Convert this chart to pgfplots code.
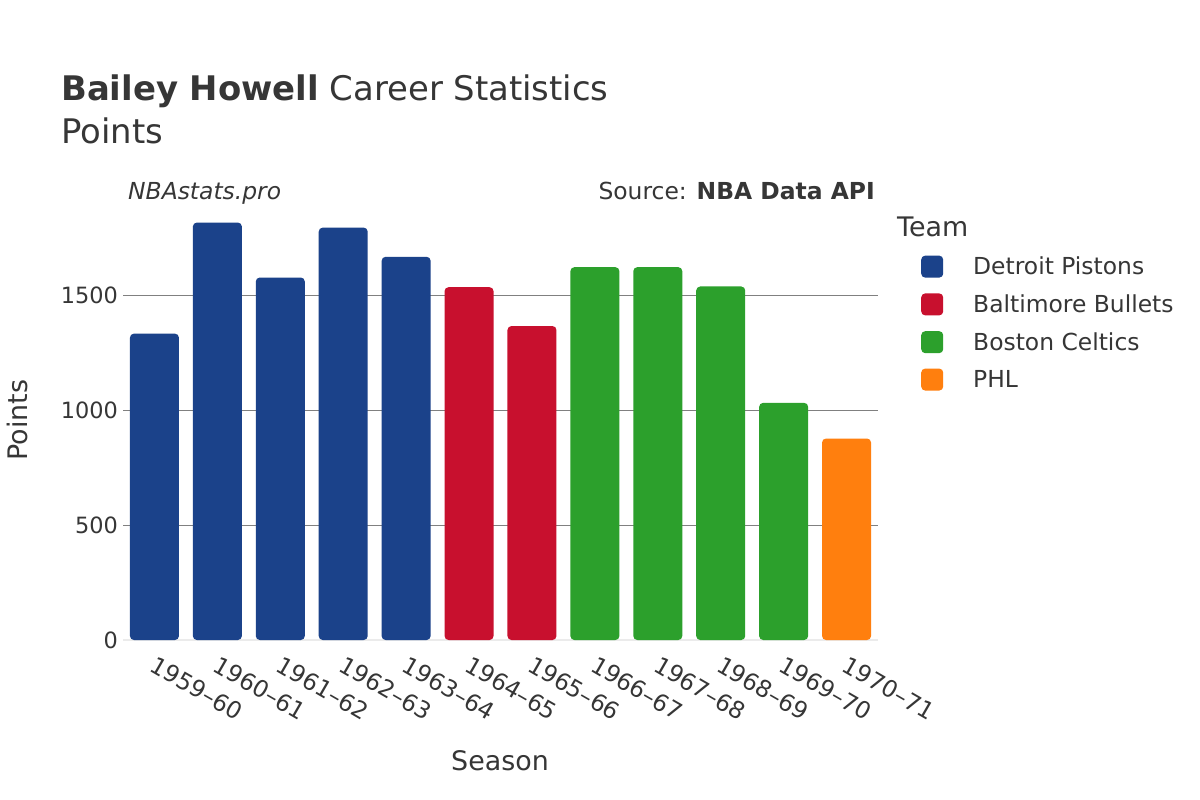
\documentclass[border=0pt]{standalone}
\usepackage{pgfplots}
\pgfplotsset{compat=1.18}
\usepackage{fontspec}
\setmainfont{DejaVu Sans}
\definecolor{txt}{HTML}{363636}
\definecolor{det}{HTML}{1B428A}
\definecolor{bal}{HTML}{C8102E}
\definecolor{bos}{HTML}{2CA02C}
\definecolor{phl}{HTML}{FF7F0E}
\definecolor{gridc}{HTML}{808080}
\definecolor{zeroc}{HTML}{EBEBEB}
\begin{document}
\begin{tikzpicture}[x=1bp,y=1bp]
\useasboundingbox[fill=white] (0,0) rectangle (1200,-800);
% titles
\node[anchor=base west,text=txt,inner sep=0] at (61,-101)
  {\fontsize{34}{40}\selectfont\textbf{Bailey Howell} Career Statistics};
\node[anchor=base west,text=txt,inner sep=0] at (61,-143)
  {\fontsize{34}{40}\selectfont Points};
\node[anchor=base west,text=txt,inner sep=0] at (128,-199)
  {\fontsize{23.5}{28}\selectfont\itshape NBAstats.pro};
\node[anchor=base east,text=txt,inner sep=0] at (875,-199)
  {\fontsize{23.5}{28}\selectfont Source: \textbf{NBA Data API}};
\node[anchor=base west,text=txt,inner sep=0] at (897,-236)
  {\fontsize{27}{32}\selectfont Team};
\node[anchor=center,text=txt,inner sep=0,rotate=90] at (17,-420)
  {\fontsize{27}{32}\selectfont Points};
\node[anchor=base,text=txt,inner sep=0] at (500,-770)
  {\fontsize{27}{32}\selectfont Season};

\begin{axis}[
  at={(123bp,-640bp)}, anchor=south west,
  width=755bp, height=440bp, scale only axis,
  xmin=-0.5, xmax=11.5, ymin=0, ymax=1913,
  ybar, bar width=49bp, bar shift=0pt,
  axis line style={draw=none},
  tick style={draw=none},
  /pgf/number format/assume math mode=true,
  /pgf/number format/1000 sep={},
  xtick={0,...,11},
  xticklabels={1959--60,1960--61,1961--62,1962--63,1963--64,1964--65,1965--66,1966--67,1967--68,1968--69,1969--70,1970--71},
  xticklabel style={rotate=-30,anchor=north west,text=txt,
    font=\fontsize{23.5}{26}\selectfont,inner sep=0pt,xshift=8bp,yshift=-8bp},
  ytick={500,1000,1500},
  extra y ticks={0},
  extra y tick style={grid style={draw=zeroc,line width=2bp}},
  yticklabel style={text=txt,font=\fontsize{22.5}{26}\selectfont,inner sep=0pt,xshift=-5bp},
  ymajorgrids,
  grid style={draw=gridc,line width=0.8bp},
  every axis plot/.append style={draw=none,rounded corners=4bp},
  legend style={at={(1.053,0.88)},anchor=north west,draw=none,fill=none,
    font=\fontsize{23.5}{28}\selectfont,text=txt,row sep=14.5bp,
    /tikz/every even column/.append style={column sep=0bp}},
  legend cell align=left,
  legend image code/.code={\fill[#1,rounded corners=4bp] (0bp,-11bp) rectangle (22bp,11bp);
    \path[draw=none,fill=none] (0,0) -- (50bp,0);},
]
\addplot[fill=det] coordinates {(0,1332) (1,1815) (2,1576) (3,1793) (4,1666)};
\addlegendentry{Detroit Pistons}
\addplot[fill=bal] coordinates {(5,1534) (6,1365)};
\addlegendentry{Baltimore Bullets}
\addplot[fill=bos] coordinates {(7,1621) (8,1621) (9,1537) (10,1031)};
\addlegendentry{Boston Celtics}
\addplot[fill=phl] coordinates {(11,876)};
\addlegendentry{PHL}
\end{axis}
\end{tikzpicture}
\end{document}
